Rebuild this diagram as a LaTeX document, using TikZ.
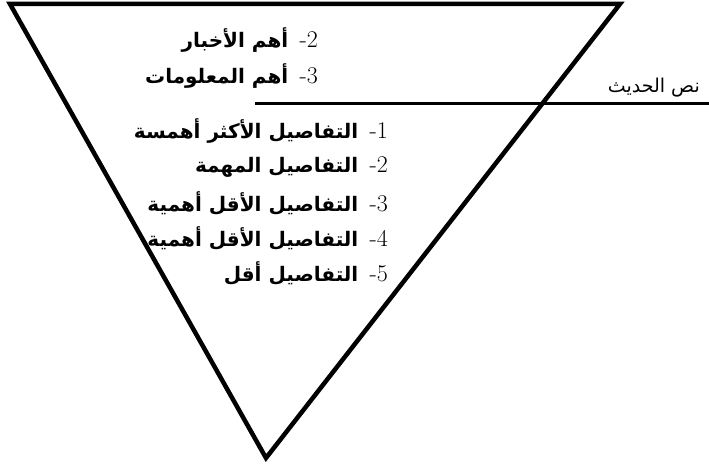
\documentclass[tikz,border=0pt]{standalone}
\usepackage{fontspec}
\TeXXeTstate=1
\newfontfamily\arabicfont[Script=Arabic]{DejaVu Sans}
\newfontfamily\arabicbold[Script=Arabic]{DejaVu Sans Bold}
\begin{document}
\begin{tikzpicture}[x=1pt,y=-1pt,
  lbl/.style={anchor=east,inner sep=0pt,font=\fontsize{24}{28}\selectfont},
  tri/.style={line width=4.5pt},
  cut/.style={line width=3pt}]
\useasboundingbox (0,0) rectangle (709,465);
\coordinate (tl) at (10,4);
\coordinate (tr) at (620,4);
\coordinate (ap) at (266,458);
\draw[tri] (tl) -- (tr) -- (ap) -- cycle;
\coordinate (hl) at (255,104);
\coordinate (hr) at (709,104);
\draw[cut] (hl) -- (hr);
\newcommand\ar[1]{{\fontsize{20}{24}\selectfont\arabicbold\beginR #1\endR}}
\node[lbl] (t) at (700,88) {\fontsize{19}{22}\selectfont\arabicfont\beginR نص الحديث\endR};
\node[lbl] (a2) at (318,40) {\ar{أهم الأخبار}\, -2};
\node[lbl] (a3) at (318,76) {\ar{أهم المعلومات}\, -3};
\node[lbl] (d1) at (388,131) {\ar{التفاصيل الأكثر أهمسة}\, -1};
\node[lbl] (d2) at (388,167) {\ar{التفاصيل المهمة}\, -2};
\node[lbl] (d3) at (388,203) {\ar{التفاصيل الأقل أهمية}\, -3};
\node[lbl] (d4) at (388,238) {\ar{التفاصيل الأقل أهمية}\, -4};
\node[lbl] (d5) at (388,273) {\ar{التفاصيل أقل}\, -5};
\end{tikzpicture}
\end{document}
